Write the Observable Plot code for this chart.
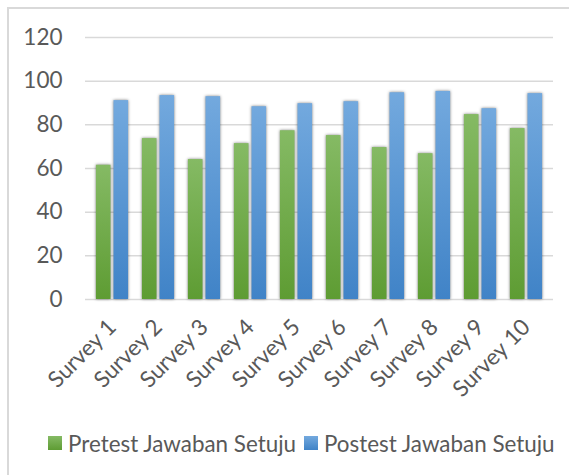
<!DOCTYPE html>
<html>
<head>
<meta charset="utf-8">
<script src="https://cdn.jsdelivr.net/npm/d3@7"></script>
<script src="https://cdn.jsdelivr.net/npm/@observablehq/plot@0.6"></script>
<style>
  html, body { margin: 0; padding: 0; background: #fff; }
  #wrap { position: relative; width: 569px; height: 475px; overflow: hidden; font-family: Lato, "Open Sans", sans-serif; color: #595959; }
  #frame { position: absolute; left: 7px; top: 6.5px; width: 700px; height: 600px; border-left: 2px solid #d9d9d9; border-top: 2px solid #d9d9d9; box-sizing: border-box; }
  #chart { position: absolute; left: 0; top: 0; }
  #legend { position: absolute; left: 0; top: 0; width: 569px; font-size: 22.4px; white-space: nowrap; }
  .sw { width: 14px; height: 14px; display: inline-block; margin-right: 6px; }
  .item { position: absolute; top: 430px; display: flex; align-items: center; height: 26px; }
</style>
</head>
<body>
<div id="wrap">
  <div id="frame"></div>
  <div id="chart"></div>
  <div id="legend"></div>
</div>
<script>
const surveys = ["Survey 1","Survey 2","Survey 3","Survey 4","Survey 5","Survey 6","Survey 7","Survey 8","Survey 9","Survey 10"];
const pretest = [61.5, 73.7, 64.1, 71.4, 77.3, 75.1, 69.6, 66.8, 84.7, 78.3];
const postest = [91.1, 93.4, 92.9, 88.3, 89.7, 90.6, 94.7, 95.3, 87.4, 94.3];
const seriesNames = ["Pretest Jawaban Setuju", "Postest Jawaban Setuju"];
const yTicks = [0, 20, 40, 60, 80, 100, 120];

const preData = surveys.map((s, i) => ({survey: s, value: pretest[i]}));
const postData = surveys.map((s, i) => ({survey: s, value: postest[i]}));

const plot = Plot.plot({
  width: 569,
  height: 420,
  marginTop: 37,
  marginBottom: 121,
  marginLeft: 85,
  marginRight: 16,
  style: {fontFamily: "Lato, 'Open Sans', sans-serif", fontSize: "22.5px", color: "#595959", background: "transparent", overflow: "visible"},
  x: {domain: surveys, padding: 0, label: null},
  y: {domain: [0, 120], label: null},
  marks: [
    Plot.ruleY(yTicks, {stroke: "#d9d9d9", strokeWidth: 1.5}),
    Plot.barY(preData, {x: "survey", y: "value", fill: "url(#gradGreen)", insetLeft: 6.9, insetRight: 24.5}),
    Plot.barY(postData, {x: "survey", y: "value", fill: "url(#gradBlue)", insetLeft: 24.5, insetRight: 6.9}),
    Plot.axisY({ticks: yTicks, tickSize: 0, tickPadding: 23, label: null, fontSize: 22.5}),
    Plot.axisX({tickRotate: -45, tickSize: 0, tickPadding: 24, label: null, fontSize: 22.5})
  ]
});

const svg = d3.select(plot);
const defs = svg.insert("defs", ":first-child");
function grad(id, top, bottom) {
  const g = defs.append("linearGradient").attr("id", id).attr("x1", 0).attr("y1", 0).attr("x2", 0).attr("y2", 1);
  g.append("stop").attr("offset", "0%").attr("stop-color", top);
  g.append("stop").attr("offset", "100%").attr("stop-color", bottom);
}
grad("gradGreen", "#85ba64", "#5e9c33");
grad("gradBlue", "#73a9de", "#4083c7");
svg.selectAll("g[aria-label='bar'] rect").style("filter", "drop-shadow(0px 0px 1.8px rgba(0,0,0,0.5))");

document.getElementById("chart").appendChild(plot);

const legend = d3.select("#legend");
const swatchFills = ["linear-gradient(#85ba64, #5e9c33)", "linear-gradient(#73a9de, #4083c7)"];
const legendLeft = [48, 304];
seriesNames.forEach((name, i) => {
  const it = legend.append("div").attr("class", "item").style("left", legendLeft[i] + "px");
  it.append("span").attr("class", "sw").style("background", swatchFills[i]);
  it.append("span").text(name);
});
</script>
</body>
</html>
